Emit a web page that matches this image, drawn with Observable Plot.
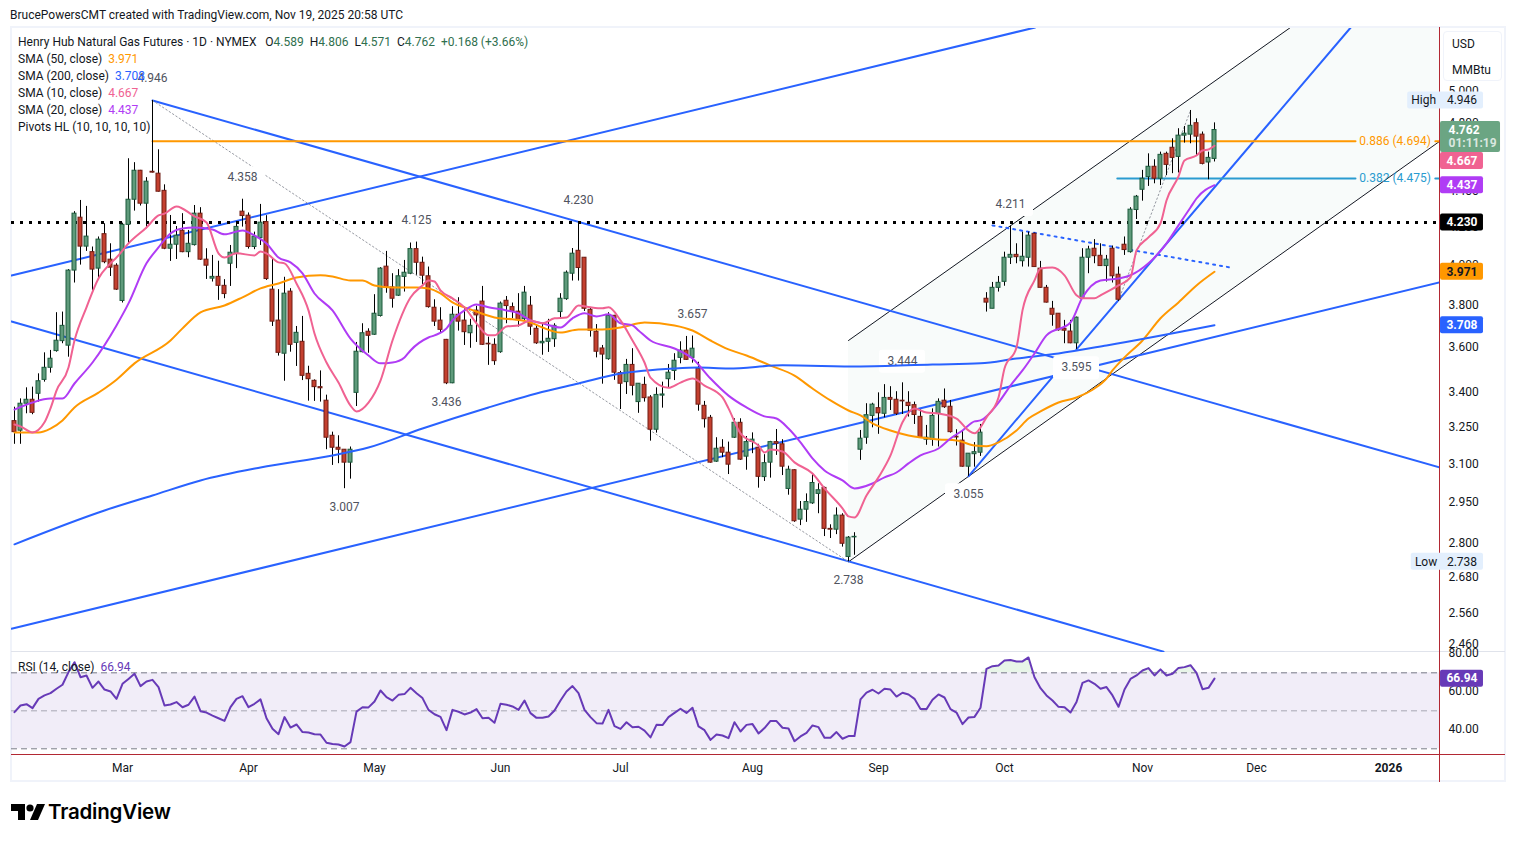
<!DOCTYPE html>
<html><head><meta charset="utf-8">
<script src="https://cdn.jsdelivr.net/npm/d3@7"></script>
<script src="https://cdn.jsdelivr.net/npm/@observablehq/plot@0.6"></script>
<style>
html,body{margin:0;padding:0;background:#fff;overflow:hidden}
#root{position:relative;width:1515px;height:842px;font-family:Roboto,sans-serif;font-size:12px;color:#131722}
#root>*{position:absolute}
#root svg{overflow:visible}
.v{margin-left:3px}
</style></head><body><div id="root"></div>
<script>
const open=[3.279,3.239,3.353,3.370,3.396,3.457,3.511,3.587,3.633,3.612,
3.977,4.256,4.101,4.072,3.987,4.167,4.033,4.002,3.825,4.217,
4.355,4.520,4.333,4.514,4.503,4.405,4.090,4.111,4.185,4.072,
4.109,4.278,4.033,3.936,3.945,3.900,4.012,4.062,4.289,4.267,
4.099,4.146,4.232,3.881,3.730,3.575,3.871,3.625,3.630,3.484,
3.453,3.425,3.366,3.218,3.169,3.161,3.109,3.400,3.582,3.677,
3.663,3.752,3.997,3.892,3.851,3.945,3.961,4.088,4.017,3.948,
3.792,3.730,3.639,3.442,3.758,3.730,3.670,3.778,3.822,3.621,
3.616,3.582,3.826,3.795,3.773,3.737,3.802,3.691,3.623,3.630,
3.642,3.771,3.834,3.961,4.079,4.043,3.782,3.677,3.599,3.550,
3.753,3.487,3.447,3.524,3.360,3.435,3.380,3.243,3.388,3.460,
3.497,3.556,3.589,3.556,3.507,3.344,3.293,3.113,3.169,3.149,
3.210,3.272,3.133,3.193,3.169,3.052,3.109,3.192,3.183,3.006,
3.079,2.890,2.927,2.951,2.987,3.010,2.856,2.853,2.905,2.755,
2.825,3.161,3.210,3.301,3.334,3.310,3.378,3.370,3.366,3.357,
3.347,3.297,3.202,3.202,3.310,3.366,3.340,3.214,3.198,3.093,
3.143,3.149,3.836,3.787,3.890,3.920,4.043,4.058,4.025,4.043,
4.169,3.987,3.890,3.787,3.763,3.691,3.678,3.623,3.836,4.043,
4.090,4.053,4.000,4.090,3.956,4.111,4.072,4.298,4.411,4.483,
4.543,4.474,4.619,4.655,4.601,4.728,4.734,4.804,4.734,4.568,4.589];
const close=[3.233,3.353,3.370,3.314,3.451,3.511,3.552,3.635,3.705,3.977,
4.278,4.101,4.154,3.982,4.138,4.020,3.992,3.881,4.217,4.355,
4.520,4.333,4.457,4.509,4.400,4.090,4.111,4.159,4.072,4.116,
4.278,4.033,4.002,3.945,3.900,3.859,4.069,4.206,4.265,4.099,
4.154,4.229,3.934,3.725,3.579,3.861,3.616,3.672,3.475,3.460,
3.425,3.420,3.210,3.169,3.161,3.109,3.161,3.584,3.670,3.658,
3.763,3.987,3.890,3.836,3.948,3.966,4.088,4.017,3.951,3.795,
3.725,3.686,3.442,3.758,3.725,3.675,3.705,3.755,3.616,3.618,
3.541,3.812,3.800,3.774,3.732,3.866,3.701,3.623,3.630,3.644,
3.705,3.836,3.966,4.064,3.990,3.787,3.682,3.584,3.571,3.753,
3.489,3.440,3.524,3.431,3.440,3.377,3.243,3.391,3.393,3.489,
3.543,3.589,3.547,3.598,3.349,3.287,3.109,3.165,3.149,3.101,
3.272,3.121,3.192,3.202,3.053,3.107,3.192,3.185,3.093,3.081,
2.884,2.927,2.956,3.029,3.001,2.856,2.853,2.905,2.802,2.824,
2.827,3.206,3.304,3.349,3.312,3.378,3.370,3.310,3.363,3.343,
3.305,3.210,3.210,3.301,3.361,3.338,3.233,3.211,3.093,3.145,
3.151,3.231,3.817,3.890,3.915,4.043,4.058,4.046,4.048,4.159,
3.995,3.890,3.817,3.758,3.684,3.682,3.623,3.744,4.043,4.086,
4.051,4.000,4.033,3.948,3.831,4.083,4.300,4.372,4.474,4.543,
4.474,4.613,4.554,4.595,4.728,4.740,4.788,4.722,4.560,4.595,4.762];
const high=[3.338,3.374,3.422,3.425,3.484,3.579,3.590,3.768,3.771,3.982,
4.289,4.351,4.318,4.099,4.152,4.223,4.116,4.012,4.226,4.590,
4.567,4.522,4.480,4.946,4.643,4.439,4.268,4.208,4.278,4.187,
4.323,4.311,4.090,4.055,4.025,3.931,4.107,4.223,4.358,4.282,
4.178,4.329,4.267,4.034,3.881,3.943,3.886,3.702,3.750,3.518,
3.457,3.497,3.390,3.233,3.218,3.161,3.172,3.627,3.715,3.691,
3.856,3.992,4.076,3.961,3.982,4.029,4.120,4.125,4.046,3.995,
3.831,3.792,3.641,3.797,3.841,3.795,3.736,3.799,3.897,3.652,
3.644,3.820,3.847,3.815,3.861,3.897,3.847,3.707,3.715,3.736,
3.715,3.861,3.975,4.091,4.230,4.043,3.792,3.711,3.613,3.768,
3.755,3.495,3.549,3.598,3.441,3.469,3.388,3.422,3.447,3.526,
3.575,3.630,3.655,3.657,3.536,3.363,3.303,3.210,3.202,3.192,
3.289,3.289,3.215,3.230,3.183,3.141,3.195,3.244,3.202,3.095,
3.081,2.958,2.987,3.065,3.026,3.013,2.871,2.934,2.912,2.828,
2.842,3.240,3.353,3.355,3.400,3.436,3.427,3.405,3.444,3.405,
3.360,3.327,3.261,3.331,3.374,3.417,3.367,3.243,3.236,3.145,
3.190,3.265,3.866,3.917,3.947,4.072,4.211,4.116,4.178,4.178,
4.173,4.024,3.902,3.823,3.763,3.731,3.731,3.747,4.090,4.103,
4.138,4.116,4.055,4.104,3.995,4.152,4.311,4.379,4.522,4.619,
4.584,4.629,4.629,4.709,4.770,4.784,4.883,4.831,4.750,4.629,4.806];
const low=[3.183,3.183,3.310,3.306,3.360,3.447,3.487,3.582,3.621,3.559,
3.914,4.005,4.076,3.877,3.936,4.012,3.947,3.877,3.815,4.116,
4.292,4.320,4.196,4.507,4.398,4.085,4.024,4.034,4.069,4.043,
4.104,4.029,3.932,3.919,3.828,3.836,3.897,3.987,4.205,4.088,
4.085,4.107,3.927,3.702,3.564,3.451,3.582,3.517,3.454,3.364,
3.363,3.360,3.161,3.098,3.105,3.007,3.044,3.341,3.579,3.577,
3.660,3.747,3.863,3.790,3.847,3.869,3.956,3.953,3.906,3.790,
3.702,3.670,3.436,3.440,3.680,3.613,3.600,3.627,3.613,3.522,
3.522,3.577,3.715,3.739,3.699,3.731,3.660,3.618,3.568,3.581,
3.604,3.736,3.828,3.924,3.924,3.774,3.652,3.556,3.438,3.545,
3.455,3.328,3.393,3.387,3.312,3.360,3.196,3.229,3.334,3.420,
3.454,3.529,3.544,3.532,3.321,3.250,3.107,3.110,3.129,3.062,
3.207,3.118,3.079,3.145,3.009,3.035,3.048,3.138,3.058,2.982,
2.880,2.868,2.880,2.947,2.912,2.828,2.821,2.835,2.790,2.738,
2.761,3.118,3.183,3.251,3.224,3.293,3.324,3.303,3.307,3.296,
3.265,3.207,3.179,3.175,3.172,3.333,3.229,3.176,3.091,3.055,
3.091,3.134,3.771,3.787,3.869,3.898,4.008,4.012,3.995,3.995,
3.995,3.888,3.815,3.703,3.680,3.621,3.621,3.595,3.833,3.961,
4.012,4.000,3.919,3.914,3.823,4.055,4.067,4.246,4.347,4.430,
4.445,4.435,4.492,4.503,4.507,4.683,4.679,4.609,4.554,4.468,4.571];

const sma10Bars=[0,1,3,5,6,7,9,10,12,14,16,17,19,22,24,25,27,30,32,34,35,37,40,41,42,44,45,47,49,50,52,54,56,57,59,61,63,66,68,69,70,71,73,75,77,79,80,82,84,86,88,90,92,94,96,98,99,101,103,105,106,109,111,113,115,118,119,121,124,125,126,128,130,133,135,138,139,140,142,144,146,148,150,152,154,157,159,160,162,164,165,167,168,170,171,173,175,177,178,180,181,184,186,187,189,191,192,194,195,197,198,199,200];
const sma10Vals=[3.265,3.257,3.232,3.274,3.333,3.410,3.512,3.636,3.794,3.937,4.014,4.044,4.118,4.203,4.268,4.278,4.318,4.263,4.230,4.066,4.044,4.066,4.055,4.076,4.066,4.019,4.014,3.912,3.779,3.669,3.535,3.445,3.345,3.320,3.358,3.454,3.636,3.842,3.902,3.927,3.922,3.877,3.838,3.794,3.717,3.660,3.660,3.702,3.707,3.731,3.717,3.741,3.745,3.803,3.794,3.789,3.794,3.731,3.636,3.535,3.467,3.422,3.445,3.463,3.432,3.380,3.333,3.228,3.178,3.150,3.162,3.154,3.110,3.066,3.008,2.932,2.902,2.898,2.981,3.051,3.138,3.274,3.333,3.315,3.311,3.290,3.240,3.228,3.295,3.380,3.508,3.604,3.779,3.927,3.988,3.993,3.953,3.853,3.838,3.838,3.853,3.902,3.942,4.081,4.150,4.225,4.351,4.487,4.580,4.609,4.639,4.645,4.667];
const sma20Bars=[0,3,6,8,10,13,17,19,22,24,26,28,30,33,35,38,40,42,44,46,48,50,53,56,59,61,63,65,66,69,70,72,73,75,77,79,82,84,86,88,91,93,95,97,99,101,103,104,106,110,113,116,119,122,125,127,129,131,133,135,138,140,143,145,147,149,151,154,156,158,160,161,164,166,168,170,172,176,178,181,184,186,189,192,194,196,197,200];
const sma20Vals=[3.328,3.358,3.375,3.375,3.441,3.535,3.707,3.813,4.014,4.097,4.171,4.198,4.203,4.192,4.166,4.187,4.160,4.118,4.044,4.019,3.963,3.862,3.779,3.645,3.567,3.531,3.535,3.558,3.590,3.650,3.660,3.693,3.731,3.779,3.808,3.794,3.779,3.765,3.731,3.717,3.697,3.741,3.765,3.750,3.760,3.717,3.707,3.683,3.636,3.599,3.553,3.463,3.388,3.337,3.299,3.290,3.248,3.191,3.126,3.078,3.039,3.008,3.027,3.051,3.070,3.106,3.138,3.166,3.207,3.240,3.278,3.282,3.358,3.432,3.499,3.576,3.660,3.721,3.843,3.927,3.937,3.953,4.014,4.118,4.214,4.312,4.362,4.437];
const sma50Bars=[0,4,6,8,10,14,17,20,26,28,31,35,38,41,44,47,51,53,56,58,60,63,67,69,71,73,76,80,83,86,88,91,94,98,101,104,105,110,113,116,119,122,126,130,133,136,139,141,143,146,149,154,157,160,162,164,167,169,171,174,177,180,182,183,185,188,191,194,197,200];
const sma50Vals=[3.232,3.232,3.248,3.282,3.337,3.401,3.458,3.531,3.636,3.693,3.769,3.803,3.843,3.887,3.912,3.942,3.953,3.947,3.927,3.927,3.902,3.892,3.892,3.887,3.862,3.818,3.784,3.745,3.736,3.721,3.697,3.673,3.688,3.688,3.697,3.717,3.721,3.707,3.683,3.636,3.595,3.567,3.521,3.476,3.419,3.367,3.324,3.303,3.270,3.240,3.219,3.203,3.199,3.178,3.175,3.191,3.240,3.290,3.320,3.358,3.380,3.419,3.463,3.499,3.558,3.636,3.741,3.818,3.902,3.971];
const sma200Bars=[0,15,23,31,41,53,59,68,79,87,94,101,110,114,119,128,141,153,161,167,174,182,200];
const sma200Vals=[2.800,2.924,2.981,3.039,3.090,3.138,3.170,3.248,3.337,3.397,3.441,3.485,3.508,3.512,3.508,3.522,3.517,3.526,3.531,3.553,3.576,3.613,3.708];

const rsi=[49.3,52.8,53.5,51.4,56.3,58.1,59.3,61.6,63.7,70.4,
75.6,67.7,68.6,62.1,65.4,61.2,60.2,56.3,64.2,66.8,
69.5,63,65.4,66.3,62.5,52.8,53.3,54.6,51.9,53.2,
57.5,49.8,49.1,47.5,46.1,44.7,51.9,56.3,57.7,51.9,
53.7,56,46.1,40.5,37.7,46.7,41.2,42.8,38.8,38.6,
37.7,37.5,33.2,32.5,32.3,31.2,33.5,49.6,51.9,51.8,
54.9,60.7,57.2,55.4,58.4,58.8,62.1,59.3,56.7,50.5,
48.2,46.8,39.8,50.5,49.5,48.1,49.1,50.9,46.1,46.3,
43.7,53.7,53.2,52.3,50.5,55.4,48.8,46.3,46.3,47,
50.2,55.4,60.2,63,59.3,50.5,46.7,43.5,43.3,50.5,
41.9,40.5,44,41.4,41.6,39.6,36,42.6,42.5,46.7,
48.9,51.1,48.9,51.6,41.8,39.8,34.7,37.5,37,35.6,
44,39.1,42.6,43,38.1,40.9,44.7,44.6,41.1,40.7,
34,36.5,38.4,42.3,41.4,35.8,35.8,38.8,35.3,36.7,
36.7,56,59.6,61.1,59.1,61.6,61.2,57.5,59.5,58.6,
56.3,50.9,50.9,55.8,58.6,57,50.9,49.1,43,46.5,
46.8,51.6,72.1,73.5,73.9,76.5,76.7,76,76,78.1,
67.7,61.9,58.1,55.4,52.1,51.9,49.1,54.6,64.7,66,
64.2,61.6,62.5,58.1,52.1,61.2,66.8,68.6,71.2,72.5,
68.6,71.8,68.6,69.5,72.6,73,74,70,61.4,62.1,66.94];

const blueLines=[
 [[-0.5,3.952],[170.1,5.431]],
 [[23,4.946],[237.5,3.090]],
 [[-0.5,3.726],[191.5,2.440]],
 [[-0.5,2.513],[237.5,3.917]],
 [[159,3.055],[173.2,3.476]],
 [[177,3.595],[222.7,5.431]]
];
const channelBars=[139,237.5];
const channelLow=[2.738,4.693];
const channelHigh=[3.636,6.218];
const grayDotted=[[[23,4.946],[139,2.738]],[[184,3.828],[196,4.883]]];
const blueDotted=[[163,4.214],[202.6,3.993]];
const pivotHighBars=[23,38,67,94,113,148,166];
const pivotHighVals=[4.946,4.358,4.125,4.230,3.657,3.444,4.211];
const pivotLowBars=[55,72,139,159,177];
const pivotLowVals=[3.007,3.436,2.738,3.055,3.595];
const priceTicks=[5,4.8,4.6,4.4,4.2,4,3.8,3.6,3.4,3.25,3.1,2.95,2.8,2.68,2.56,2.46];
const rsiTicks=[80,60,40];
const monthBars=[18,39,60,81,101,123,144,165,188,207];
const monthNames=["Mar","Apr","May","Jun","Jul","Aug","Sep","Oct","Nov","Dec"];
const yearBars=[229];

const UP="#5f9b7b",UPD="#1c5a3c",DN="#c4402f",DND="#6f1d14";
const BLUE="#2962ff",ORANGE="#ff9800",PINK="#f06292",PURPLE="#b03cf5",RSI="#673ab7";
const xDomain=[-0.5,237.5];
const FONT="Roboto,sans-serif";

const bars=d3.range(open.length).map(i=>({i,o:open[i],h:high[i],l:low[i],c:close[i]}));
const zip=(a,b)=>a.map((x,k)=>({x,y:b[k]}));
const seg=p=>p.map(([x,y])=>({x,y}));
const line=(data,opt)=>Plot.line(data,{x:"x",y:"y",clip:true,...opt});
const smooth=(data,stroke)=>line(data,{stroke,strokeWidth:2,curve:"monotone-x"});

function pivotMarks(bs,vs,dy){
  const d=zip(bs,vs);
  const top=dy-11.5;
  return [
    Plot.rect(d,{x1:"x",x2:"x",y1:"y",y2:"y",insetLeft:-23,insetRight:-23,insetTop:top,insetBottom:-top-23,fill:"#fff",rx:3}),
    Plot.text(d,{x:"x",y:"y",dy:dy-1,text:r=>r.y.toFixed(3),fill:"#50535e",fontSize:12})
  ];
}
function tag(value,text,fill,color,off=0){
  return [
    Plot.rect([value],{x1:237.67,x2:244.83,y1:d=>d,y2:d=>d,insetTop:off-8.5,insetBottom:-off-8.5,fill,rx:2}),
    Plot.text([value],{x:241.25,y:d=>d,dy:off,text:()=>text,fill:color,fontWeight:700,fontSize:12})
  ];
}
function hiLow(value,word,x1){
  return [
    Plot.rect([value],{x1,x2:244.83,y1:d=>d,y2:d=>d,insetTop:-8.5,insetBottom:-8.5,fill:"#e3effd",rx:2}),
    Plot.text([value],{x:x1+0.6,y:d=>d,text:()=>word,fill:"#131722",fontSize:12,textAnchor:"start"}),
    Plot.text([value],{x:241.25,y:d=>d,text:d=>d.toFixed(3),fill:"#131722",fontSize:12})
  ];
}

const pricePlot=Plot.plot({
  width:1515,height:652,marginLeft:11,marginRight:76,marginTop:28,marginBottom:0,
  style:{background:"transparent",fontFamily:FONT,fontSize:"12px",overflow:"visible"},
  x:{type:"linear",domain:xDomain,axis:null},
  y:{type:"log",domain:[2.439,5.424],range:[651.5,28],axis:null},
  marks:[
    Plot.areaY(channelBars.map((x,k)=>({x,a:channelLow[k],b:channelHigh[k]})),{x:"x",y1:"a",y2:"b",fill:"#f8fbfa",clip:true}),
    line(seg([[139,2.738],[237.5,4.693]]),{stroke:"#131722",strokeWidth:1}),
    line(seg([[139,3.636],[237.5,6.218]]),{stroke:"#131722",strokeWidth:1}),
    ...blueLines.map(p=>line(seg(p),{stroke:BLUE,strokeWidth:2})),
    ...grayDotted.map(p=>line(seg(p),{stroke:"#9598a1",strokeWidth:1,strokeDasharray:"1.5,2.5"})),
    line(seg(blueDotted),{stroke:BLUE,strokeWidth:2,strokeDasharray:"2,5"}),
    Plot.ruleY([4.230],{stroke:"#000",strokeWidth:3,strokeDasharray:"3,6",clip:true}),
    line(seg([[23,4.694],[223.5,4.694]]),{stroke:ORANGE,strokeWidth:2}),
    line(seg([[236.8,4.694],[237.5,4.694]]),{stroke:ORANGE,strokeWidth:2}),
    line(seg([[183.8,4.475],[223.5,4.475]]),{stroke:"#2a9bd0",strokeWidth:2}),
    line(seg([[236.8,4.475],[237.5,4.475]]),{stroke:"#2a9bd0",strokeWidth:2}),
    Plot.text([4.694],{x:230.1,y:d=>d,text:()=>"0.886 (4.694)",fill:ORANGE,fontSize:12}),
    Plot.text([4.475],{x:230.1,y:d=>d,text:()=>"0.382 (4.475)",fill:"#2a9bd0",fontSize:12}),
    ...pivotMarks(pivotHighBars,pivotHighVals,-21),
    ...pivotMarks(pivotLowBars,pivotLowVals,19),
    Plot.ruleX(bars,{x:"i",y1:"l",y2:"h",stroke:"#000",strokeWidth:1,clip:true}),
    Plot.rect(bars,{x1:"i",x2:"i",y1:"o",y2:"c",insetLeft:-2,insetRight:-2,fill:d=>d.c>=d.o?UP:DN,stroke:d=>d.c>=d.o?UPD:DND,strokeWidth:1,clip:true}),
    smooth(zip(sma50Bars,sma50Vals),ORANGE),
    smooth(zip(sma200Bars,sma200Vals),BLUE),
    smooth(zip(sma20Bars,sma20Vals),PURPLE),
    smooth(zip(sma10Bars,sma10Vals),PINK),
    Plot.axisY({anchor:"right",ticks:priceTicks,tickFormat:d3.format(".3f"),tickSize:0,tickPadding:9,label:null,fill:"#131722",fontSize:12,dy:-1}),
    ...hiLow(4.946,"High",232.2),
    ...hiLow(2.738,"Low",232.8),
    Plot.rect([4.762],{x1:237.67,x2:247.67,y1:d=>d,y2:d=>d,insetTop:-8.6,insetBottom:-22.4,fill:"#6ba583",rx:2}),
    Plot.text([4.762],{x:239,y:d=>d,text:d=>d.toFixed(3),fill:"#fff",fontWeight:700,fontSize:12,textAnchor:"start"}),
    Plot.text([4.762],{x:239,y:d=>d,dy:13.5,text:()=>"01:11:19",fill:"rgba(255,255,255,.75)",fontWeight:700,fontSize:12,textAnchor:"start"}),
    ...tag(4.667,"4.667",PINK,"#fff",15.2),
    ...tag(4.437,"4.437",PURPLE,"#fff"),
    ...tag(4.230,"4.230","#000","#fff"),
    ...tag(3.971,"3.971",ORANGE,"#131722"),
    ...tag(3.708,"3.708",BLUE,"#fff")
  ]
});

const rsiData=rsi.map((r,i)=>({i,r}));
const rsiPlot=Plot.plot({
  width:1515,height:130,marginLeft:11,marginRight:76,marginTop:0,marginBottom:28,
  style:{background:"transparent",fontFamily:FONT,fontSize:"12px",overflow:"visible"},
  x:{type:"linear",domain:xDomain,axis:null},
  y:{type:"linear",domain:[27,80.7],axis:null},
  marks:[
    Plot.rect([0],{x1:xDomain[0],x2:xDomain[1],y1:30,y2:70,fill:"#7e57c2",fillOpacity:0.11}),
    Plot.areaY(rsiData,{x:"i",y1:70,y2:d=>Math.max(70,d.r),fill:"#4caf50",fillOpacity:0.13}),
    Plot.ruleY([70,30],{stroke:"#787b86",strokeWidth:1,strokeDasharray:"6,4"}),
    Plot.ruleY([50],{stroke:"#787b86",strokeOpacity:0.6,strokeWidth:1,strokeDasharray:"6,4"}),
    Plot.line(rsiData,{x:"i",y:"r",stroke:RSI,strokeWidth:2}),
    Plot.axisY({anchor:"right",ticks:rsiTicks,tickFormat:d3.format(".2f"),tickSize:0,tickPadding:9,label:null,fill:"#131722",fontSize:12,dy:-1}),
    Plot.axisX({ticks:monthBars,tickFormat:d=>monthNames[monthBars.indexOf(d)],tickSize:0,tickPadding:9,label:null,fill:"#131722",fontSize:12}),
    Plot.axisX({ticks:yearBars,tickFormat:()=>"2026",tickSize:0,tickPadding:9,label:null,fill:"#131722",fontSize:12,fontWeight:700}),
    Plot.rect([66.94],{x1:237.67,x2:244.83,y1:d=>d,y2:d=>d,insetTop:-8.5,insetBottom:-8.5,fill:RSI,rx:2}),
    Plot.text([66.94],{x:241.25,y:d=>d,text:d=>d.toFixed(2),fill:"#fff",fontWeight:700,fontSize:12})
  ]
});

const root=document.getElementById("root");
function box(css){const d=document.createElement("div");d.style.cssText=css;root.appendChild(d);return d;}
box("left:10px;top:26px;width:1492px;height:752px;border:2px solid #f0f3fa");
box("left:11px;top:651px;width:1494px;height:1px;background:#e0e3eb");
box("left:11px;top:754px;width:1494px;height:1px;background:#b22833");
box("left:1439px;top:27px;width:1px;height:755px;background:#b22833");
box("left:1443px;top:31px;width:57px;height:48px;border:1px solid #f0f3fa;border-radius:4px");
pricePlot.style.cssText+=";left:0;top:0";root.appendChild(pricePlot);
rsiPlot.style.cssText+=";left:0;top:652px";root.appendChild(rsiPlot);

function text(top,left,html,extra=""){const d=box(`top:${top}px;left:${left}px;white-space:pre;line-height:14px;${extra}`);d.innerHTML=html;return d;}
text(8,10,"BrucePowersCMT created with TradingView.com, Nov 19, 2025 20:58 UTC");
const g='#2f6f4e';
text(35,18,`Henry Hub Natural Gas Futures · 1D · NYMEX   O<span style="color:${g}">4.589</span><span class="v"> H</span><span style="color:${g}">4.806</span><span class="v"> L</span><span style="color:${g}">4.571</span><span class="v"> C</span><span style="color:${g}">4.762</span><span class="v" style="color:${g}"> +0.168 (+3.66%)</span>`);
text(52,18,`SMA (50, close)  <span style="color:${ORANGE}">3.971</span>`);
text(69,18,`SMA (200, close)  <span style="color:${BLUE}">3.708</span>`);
text(86,18,`SMA (10, close)  <span style="color:${PINK}">4.667</span>`);
text(103,18,`SMA (20, close)  <span style="color:${PURPLE}">4.437</span>`);
text(120,18,`Pivots HL (10, 10, 10, 10)`);
text(660,18,`RSI (14, close)  <span style="color:${RSI}">66.94</span>`);
text(37,1452,"USD");
text(63,1452,"MMBtu");
const logo=document.createElementNS("http://www.w3.org/2000/svg","svg");
logo.setAttribute("width","34");logo.setAttribute("height","18");logo.setAttribute("viewBox","0 0 34 18");
logo.style.cssText="left:11px;top:803px";
logo.innerHTML='<path d="M0 1h14v16H7V8H0z" fill="#000"/><circle cx="19" cy="5" r="3.6" fill="#000"/><path d="M26 1h8l-7 16h-8z" fill="#000"/>';
root.appendChild(logo);
text(802,48,"TradingView","font:600 20.5px/20px Inter,Roboto,sans-serif;letter-spacing:-0.2px;color:#000");
</script></body></html>
